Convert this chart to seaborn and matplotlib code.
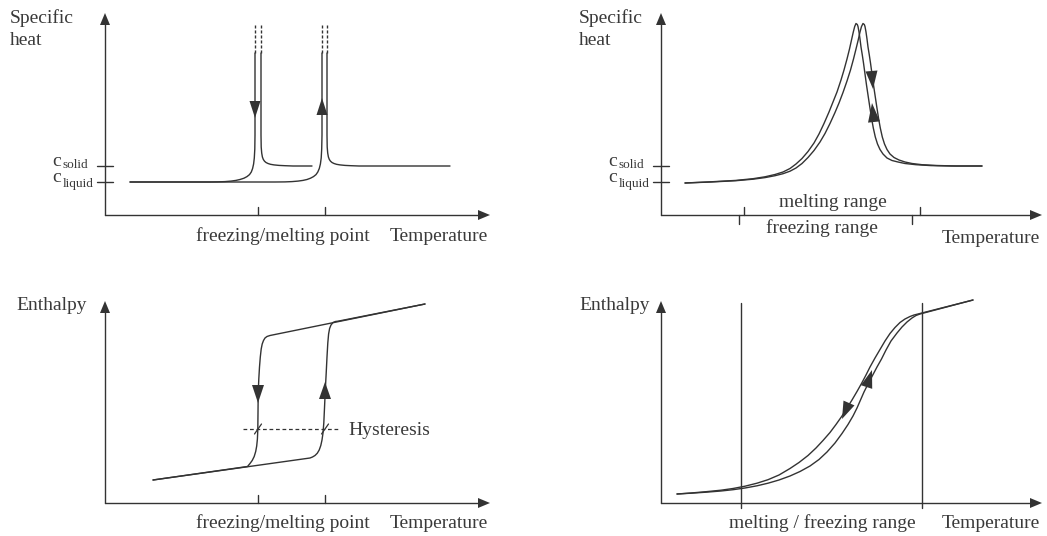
import numpy as np
import pandas as pd
import matplotlib
matplotlib.use("Agg")
import matplotlib.pyplot as plt
import seaborn as sns

# ---------------------------------------------------------------------------
# Schematic curves (temperature T, property value v), axis origin at (0, 0)
# ---------------------------------------------------------------------------

# Specific heat, pure substance (sharp freezing / melting point)
sh_levels = {"c_liquid": 33, "c_solid": 49}
sh_points = [153, 220]                         # freezing / melting point ticks

sh_freeze_in_T = [25, 60, 98, 105, 112, 120, 126, 131, 135, 139, 142, 144.5, 146.3,
                  147.6, 148.6, 149.3, 149.8, 150, 150]
sh_freeze_in_v = [33, 33, 33, 33, 33.1, 33.4, 33.9, 34.6, 35.5, 36.8, 38.4, 40.4, 43,
                  46.5, 51, 57, 66, 80, 162]
sh_freeze_out_T = [156, 156, 156.2, 156.7, 157.4, 158.3, 159.5, 161, 163, 165.5, 169,
                   174, 180, 188, 207]
sh_freeze_out_v = [162, 80, 68, 62, 58, 55.6, 53.8, 52.5, 51.5, 50.7, 50.1, 49.6, 49.3, 49, 49]

sh_melt_in_T = [25, 100, 160, 170, 180, 187, 193, 198, 202, 205.5, 208.5, 211, 212.8,
                214.3, 215.4, 216.2, 216.7, 217, 217]
sh_melt_in_v = [33, 33, 33, 33, 33.1, 33.4, 33.9, 34.6, 35.5, 36.8, 38.4, 40.4, 43,
                46.5, 51, 57, 66, 80, 162]
sh_melt_out_T = [222, 222, 222.2, 222.7, 223.4, 224.3, 225.5, 227, 229, 231.5, 235,
                 240, 246, 254, 345]
sh_melt_out_v = [162, 80, 68, 62, 58, 55.6, 53.8, 52.5, 51.5, 50.7, 50.1, 49.6, 49.3, 49, 49]

sh_spike_T = [150, 156, 217, 222]              # dashed continuation to infinity
sh_spike_v = [162, 190]

# Specific heat, mixture (melting / freezing range)
shr_levels = {"c_liquid": 33, "c_solid": 49}
shr_melt_ticks = [83, 259]
shr_freeze_ticks = [78, 251]

shr_a_T = [24, 50, 75, 92, 104, 114, 122, 129, 135, 141, 147, 153, 158, 163, 168, 172,
           176, 180, 183, 186, 188.5, 190.5, 192.3, 193.7, 195, 196.3, 197, 198, 199,
           200, 201.3, 202.5, 204, 205.5, 207, 208.8, 210.5, 212.3, 214.3, 216.5, 219,
           222, 226, 231, 237, 244, 255, 270, 290, 321]
shr_a_v = [32, 33.2, 34.6, 36.3, 38.2, 40.5, 43, 46.5, 51, 56.5, 63.5, 72, 81, 91.5,
           103, 113, 123, 135, 145, 156, 166, 175, 183, 188.5, 191.5, 190.5, 188.5, 183,
           176, 168, 160, 152, 141, 130, 120, 108, 97, 87, 78, 71, 65.5,
           61, 57, 54.5, 53, 51.5, 50.3, 49.4, 49, 49]
shr_b_T = [24, 50, 75, 92, 104, 114, 122, 129, 135, 141, 147, 153, 159, 164, 169, 174,
           178, 182, 186, 189.5, 192.5, 195, 197.2, 199, 200.5, 202, 203.3, 204, 205,
           206, 207, 208.3, 209.5, 211, 212.5, 214, 215.8, 217.5, 219.3, 221.3, 223.5,
           226, 229, 233, 238, 244, 251, 261, 276, 295, 321]
shr_b_v = [32, 33, 34.3, 35.8, 37.4, 39.3, 41.3, 43.8, 47, 51.5, 57.5, 64.5, 73, 81.5,
           91.5, 102.5, 112, 122.5, 134, 145, 156, 166, 175, 183, 188.5, 191.5, 190.5,
           188.5, 183, 176, 168, 160, 152, 141, 130, 120, 108, 97, 87, 78, 71,
           65.5, 61, 57.5, 55, 53, 51.5, 50.3, 49.5, 49, 49]

# Enthalpy, pure substance (hysteresis between freezing and melting)
h_points = [153, 220]
h_melt_T = [48, 205, 207.5, 210, 212.3, 214.2, 215.8, 217, 218, 218.8, 219.5, 220.3,
            221.2, 222, 222.8, 223.6, 224.6, 226, 228, 230.5, 233, 320]
h_melt_v = [23, 45, 46, 47.5, 49.8, 53, 57.5, 63, 70, 80, 95, 113, 130, 146, 160,
            169, 174.5, 178, 180.5, 181.5, 181.8, 199]
h_freeze_T = [320, 165, 162, 160, 158.5, 157.2, 156.2, 155.3, 154.5, 153.8, 153.2,
              153, 152.8, 152.4, 151.7, 150.7, 149.2, 147.2, 145, 142.5, 48]
h_freeze_v = [199, 167.5, 166.5, 165, 162.5, 159, 154, 146, 136, 124, 110, 90, 73,
              64, 57, 51.5, 46.5, 42.5, 39.5, 36.5, 23]
h_hyst_T = [138, 235]
h_hyst_v = 74

# Enthalpy, mixture (melting / freezing range)
hr_range = [80, 261]
hr_freeze_T = [16, 30, 45, 60, 72, 84, 96, 107, 118, 129, 138, 147, 155, 162, 169, 175,
               181, 186, 191, 196, 200.5, 205, 209, 214, 219, 224, 229, 234, 239, 244,
               249, 253, 257, 312]
hr_freeze_v = [9, 10, 11.3, 12.8, 14.5, 16.8, 19.8, 23.3, 28, 34.5, 40.5, 47.5, 55,
               62.5, 70.5, 78.5, 87, 95, 103, 111.5, 119.5, 128, 136, 145, 153.5, 162,
               169.5, 175.5, 180.5, 184, 186.5, 188, 189, 203]
hr_melt_T = [16, 30, 45, 60, 72, 84, 96, 107, 118, 129, 139, 149, 158, 166, 174, 181,
             187, 192, 196, 199.5, 203, 207, 211.5, 216, 220.5, 225, 230, 236, 241,
             246, 251, 255, 259, 312]
hr_melt_v = [9, 9.8, 10.8, 12, 13.3, 15, 17.2, 19.8, 23, 27, 31.5, 37, 43.5, 51, 60,
             69.5, 78.5, 87, 95, 103, 111, 119, 127.5, 136, 144, 153, 162, 170, 176,
             181, 185, 187.5, 189, 203]

# ---------------------------------------------------------------------------
sns.set_style("white")
plt.rcParams["font.family"] = ["Liberation Serif", "DejaVu Serif"]

INK = "#333333"
TXT = "#3a3a3a"
LW = 1.0
FS = 14
SUB = 9.5

W, H = 1047, 536
fig = plt.figure(figsize=(W / 100, H / 100), dpi=100)
fig.patch.set_facecolor("white")


def panel(ox, oy):
    """Full-figure axes whose origin sits at (ox, oy) pixels, 1 unit = 1 px."""
    ax = fig.add_axes([0, 0, 1, 1])
    ax.set_xlim(-ox, W - ox)
    ax.set_ylim(oy - H, oy)
    ax.axis("off")
    ax.patch.set_alpha(0)
    return ax


def head(ax, tip, base, width):
    tx, ty = tip
    bx, by = base
    dx, dy = tx - bx, ty - by
    L = np.hypot(dx, dy)
    nx, ny = -dy / L * width / 2, dx / L * width / 2
    ax.fill([tx, bx + nx, bx - nx], [ty, by + ny, by - ny], color=INK, lw=0, zorder=5)


def axes_arrows(ax, xmax, ymax):
    ax.plot([0, xmax - 11], [0, 0], color=INK, lw=LW)
    ax.plot([0, 0], [0, ymax - 11], color=INK, lw=LW)
    head(ax, (xmax, 0), (xmax - 12, 0), 10)
    head(ax, (0, ymax), (0, ymax - 12), 10)


def curve(ax, T, v, **kw):
    df = pd.DataFrame({"T": T, "v": v})
    sns.lineplot(data=df, x="T", y="v", sort=False, estimator=None, ax=ax,
                 color=INK, lw=LW, **kw)


def c_labels(ax, levels):
    for key, sub, sub_dv in [("c_solid", "solid", -2.5), ("c_liquid", "liquid", -5)]:
        lv = levels[key]
        ax.plot([-8, 8], [lv, lv], color=INK, lw=LW)
        ax.text(-53, lv - 0.5, "c", fontsize=FS, color=TXT, ha="left", va="baseline")
        ax.text(-42.5, lv + sub_dv, sub, fontsize=SUB, color=TXT, ha="left", va="baseline")


# --- top left: specific heat, sharp transition -----------------------------
ax = panel(105, 215)
axes_arrows(ax, 385, 202)
c_labels(ax, sh_levels)
for t in sh_points:
    ax.plot([t, t], [0, 8], color=INK, lw=LW)
curve(ax, sh_freeze_in_T, sh_freeze_in_v)
curve(ax, sh_freeze_out_T, sh_freeze_out_v)
curve(ax, sh_melt_in_T, sh_melt_in_v)
curve(ax, sh_melt_out_T, sh_melt_out_v)
for t in sh_spike_T:
    ax.plot([t, t], sh_spike_v, color=INK, lw=LW, dashes=(2.2, 1.4))
head(ax, (150, 97), (150, 114), 11)
head(ax, (217, 117), (217, 100), 11)
ax.text(-95, 191.7, "Specific", fontsize=FS, color=TXT, va="baseline")
ax.text(-95, 170, "heat", fontsize=FS, color=TXT, va="baseline")
ax.text(178, -25.7, "freezing/melting point", fontsize=FS, color=TXT, ha="center", va="baseline")
ax.text(383, -25.7, "Temperature", fontsize=FS, color=TXT, ha="right", va="baseline")

# --- top right: specific heat, melting range -------------------------------
ax = panel(661, 215)
axes_arrows(ax, 381, 202)
c_labels(ax, shr_levels)
for t in shr_melt_ticks:
    ax.plot([t, t], [0, 8], color=INK, lw=LW)
for t in shr_freeze_ticks:
    ax.plot([t, t], [0, -9], color=INK, lw=LW)
curve(ax, shr_a_T, shr_a_v)
curve(ax, shr_b_T, shr_b_v)
head(ax, (212, 126), (210.5, 144), 12)
head(ax, (211, 112), (213, 93), 12)
ax.text(-82, 191.7, "Specific", fontsize=FS, color=TXT, va="baseline")
ax.text(-82, 170, "heat", fontsize=FS, color=TXT, va="baseline")
ax.text(172, 8.3, "melting range", fontsize=FS, color=TXT, ha="center", va="baseline")
ax.text(161, -18.3, "freezing range", fontsize=FS, color=TXT, ha="center", va="baseline")
ax.text(379, -27.7, "Temperature", fontsize=FS, color=TXT, ha="right", va="baseline")

# --- bottom left: enthalpy, hysteresis -------------------------------------
ax = panel(105, 503)
axes_arrows(ax, 385, 202)
for t in h_points:
    ax.plot([t, t], [0, 8], color=INK, lw=LW)
curve(ax, h_melt_T, h_melt_v)
curve(ax, h_freeze_T, h_freeze_v)
ax.plot(h_hyst_T, [h_hyst_v, h_hyst_v], color=INK, lw=LW * 0.9, dashes=(3, 2.2))
for t in h_points:
    ax.plot([t - 3.5, t + 3.5], [h_hyst_v - 5, h_hyst_v + 5], color=INK, lw=LW * 0.9)
head(ax, (153, 100), (153, 118), 12)
head(ax, (220, 121), (220, 104), 12)
ax.text(243, 68, "Hysteresis", fontsize=FS, color=TXT, ha="left", va="baseline")
ax.text(-89, 193, "Enthalpy", fontsize=FS, color=TXT, va="baseline")
ax.text(178, -25.3, "freezing/melting point", fontsize=FS, color=TXT, ha="center", va="baseline")
ax.text(383, -25.3, "Temperature", fontsize=FS, color=TXT, ha="right", va="baseline")

# --- bottom right: enthalpy, melting range ---------------------------------
ax = panel(661, 503)
axes_arrows(ax, 381, 202)
for t in hr_range:
    ax.plot([t, t], [-5, 200], color=INK, lw=LW)
curve(ax, hr_freeze_T, hr_freeze_v)
curve(ax, hr_melt_T, hr_melt_v)
head(ax, (181, 84), (188, 100), 12)
head(ax, (211, 133), (205.5, 116), 12)
ax.text(-82, 193, "Enthalpy", fontsize=FS, color=TXT, va="baseline")
ax.text(161, -25.3, "melting / freezing range", fontsize=FS, color=TXT, ha="center", va="baseline")
ax.text(379, -25.3, "Temperature", fontsize=FS, color=TXT, ha="right", va="baseline")

fig.savefig("out.png", dpi=100, facecolor="white")
